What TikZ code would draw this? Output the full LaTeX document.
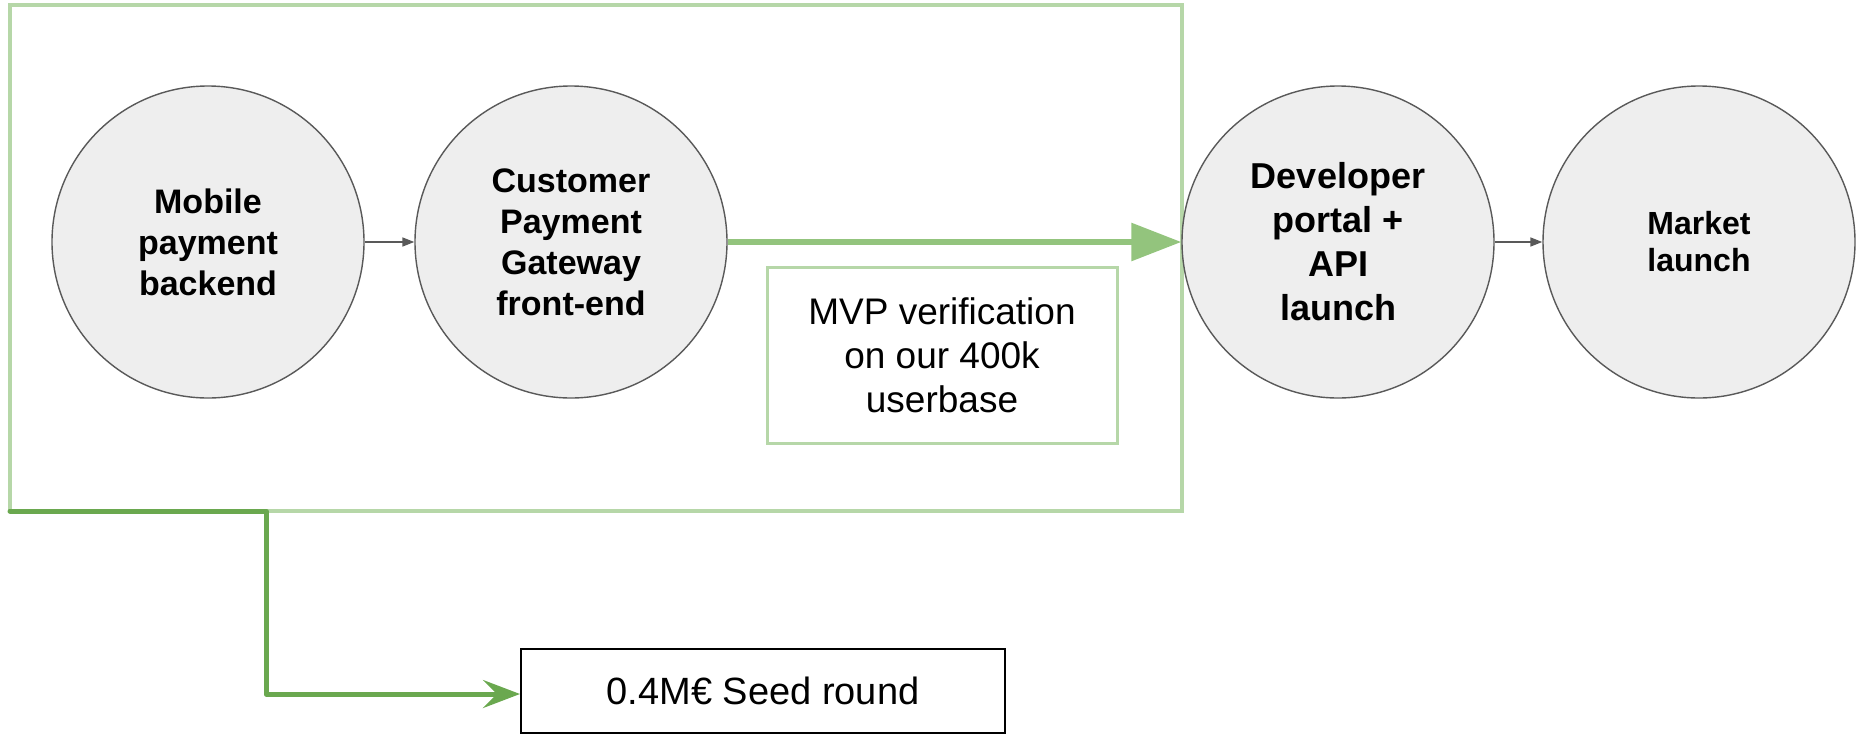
\documentclass[tikz,border=0pt]{standalone}
\usepackage{fontspec}
\setmainfont{Liberation Sans}
\usetikzlibrary{arrows.meta}
\definecolor{lightgreen}{HTML}{B6D7A8}
\definecolor{midgreen}{HTML}{93C47D}
\definecolor{darkgreen}{HTML}{6AA84F}
\definecolor{circfill}{HTML}{EEEEEE}
\definecolor{circline}{HTML}{595959}
\tikzset{
  phasebox/.style={draw=lightgreen, line width=4.5pt, rectangle, inner sep=0pt, outer sep=0pt,
    minimum width=1172pt, minimum height=506pt, anchor=north west},
  stage/.style={circle, draw=circline, fill=circfill, line width=1.4pt, minimum size=312pt,
    inner sep=0pt, align=center},
  stagetext/.style={font=\fontsize{34}{41}\selectfont\bfseries},
  thinarrow/.style={draw=circline, line width=1.6pt, -{Triangle[length=12pt,width=9pt]}},
  mvparrow/.style={draw=midgreen, line width=6pt, -{Triangle[length=50pt,width=37pt]}},
  seedarrow/.style={draw=darkgreen, line width=5pt, line join=round, line cap=round,
    -{Stealth[length=37pt,width=28pt,inset=14pt]}},
  notebox/.style={draw=lightgreen, line width=3pt, rectangle, inner sep=0pt,
    minimum width=350pt, minimum height=176pt, align=center,
    font=\fontsize{37}{44}\selectfont},
  seedbox/.style={draw=black, line width=2pt, rectangle, inner sep=0pt,
    minimum width=484pt, minimum height=84pt,
    font=\fontsize{38}{44}\selectfont},
}
\begin{document}
\begin{tikzpicture}[x=1pt,y=-1pt]
\useasboundingbox (0,0) rectangle (1858,734);
\node[phasebox] (phase) at (10,5) {};
\node[stage, stagetext] (mobile) at (208,242) {Mobile\\payment\\backend};
\node[stage, stagetext] (customer) at (571,242) {Customer\\Payment\\Gateway\\front-end};
\node[stage, font=\fontsize{36}{44}\selectfont\bfseries] (developer) at (1338,242) {Developer\\portal +\\API\\launch};
\node[stage, font=\fontsize{32}{37}\selectfont\bfseries] (market) at (1699,242) {Market\\launch};
\node[notebox] (mvp) at (942,355) {MVP verification\\on our 400k\\userbase};
\node[seedbox] (seed) at (763,691) {0.4M€ Seed round};
\draw[thinarrow] (mobile) -- (customer);
\draw[thinarrow] (developer) -- (market);
\draw[mvparrow] (customer) -- (developer);
\draw[seedarrow] (phase.south west) -- ++(256,0) |- ([yshift=-3pt]seed.west);
\end{tikzpicture}
\end{document}
